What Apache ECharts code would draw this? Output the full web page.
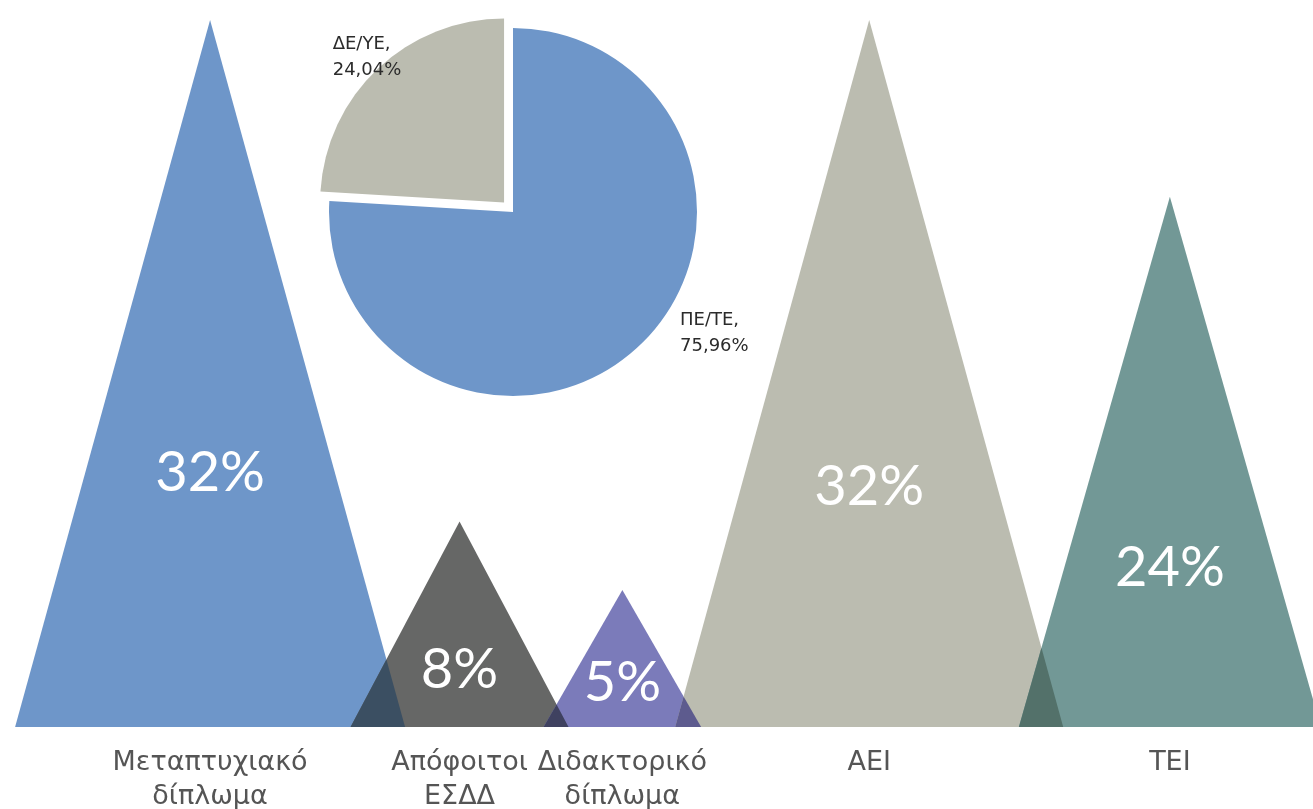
<!DOCTYPE html>
<html>
<head>
<meta charset="utf-8">
<script src="https://cdn.jsdelivr.net/npm/echarts@6/dist/echarts.min.js"></script>
<style>
  html, body { margin: 0; padding: 0; background: #ffffff; }
  #main { width: 1313px; height: 809px; }
</style>
</head>
<body>
<div id="main"></div>
<script>
// triangles
var categories = ['Μεταπτυχιακό\nδίπλωμα', 'Απόφοιτοι\nΕΣΔΔ', 'Διδακτορικό\nδίπλωμα', 'ΑΕΙ', 'ΤΕΙ'];
var shares = [32, 8, 5, 32, 24];
var barHeights = [32, 9.3, 6.2, 32, 24];
var barColors = ['#6E96C9', '#666766', '#7B7BBA', '#BBBCB0', '#729896'];
// colour where a triangle overlaps the next one
var overlapColors = ['#3B4F62', '#3F4160', '#5D5B8E', '#53716A'];

// pie inset
var pieNames = ['ΠΕ/ΤΕ', 'ΔΕ/ΥΕ'];
var pieValues = [75.96, 24.04];
var pieColors = ['#6E96C9', '#BBBCB0'];

// layout (x axis runs 0..100 across the page)
var xCenters = [16.0, 35.0, 47.4, 66.2, 89.1];
var baseWidths = [29.7, 16.6, 12.0, 29.55, 23.0];
var labelFrac = [0.36, 0.28, 0.32, 0.34, 0.30];

var chart = echarts.init(document.getElementById('main'));

var triData = barHeights.map(function (h, i) { return [i, h]; });

function triPoints(api, i) {
  var apex = api.coord([xCenters[i], barHeights[i]]);
  var base = api.coord([xCenters[i], 0]);
  var half = api.size([baseWidths[i], 0])[0] / 2;
  return { apex: apex, left: [base[0] - half, base[1]], right: [base[0] + half, base[1]] };
}

// x on the line p->q at height y
function lineX(p, q, y) {
  return p[0] + (q[0] - p[0]) * (y - p[1]) / (q[1] - p[1]);
}

function renderTriangle(params, api) {
  var i = api.value(0);
  var t = triPoints(api, i);
  var baseY = t.left[1];
  var labelY = baseY - (baseY - t.apex[1]) * labelFrac[i];
  var children = [{
    type: 'polygon',
    shape: { points: [t.left, t.apex, t.right] },
    style: { fill: barColors[i] }
  }];
  if (i < barHeights.length - 1) {
    var n = triPoints(api, i + 1);
    if (n.left[0] < t.right[0]) {
      // intersection of right edge of this and left edge of next
      var lo = Math.max(t.apex[1], n.apex[1]), hi = baseY;
      for (var k = 0; k < 60; k++) {
        var mid = (lo + hi) / 2;
        if (lineX(t.apex, t.right, mid) < lineX(n.apex, n.left, mid)) lo = mid; else hi = mid;
      }
      var py = (lo + hi) / 2;
      children.push({
        type: 'polygon',
        z2: 5,
        shape: { points: [n.left, [lineX(t.apex, t.right, py), py], t.right] },
        style: { fill: overlapColors[i] }
      });
    }
  }
  children.push({
    type: 'text',
    z2: 10,
    style: {
      text: shares[i] + '%',
      x: t.apex[0], y: labelY,
      align: 'center', verticalAlign: 'middle',
      fill: '#ffffff',
      font: '56px Lato'
    }
  }, {
    type: 'text',
    style: {
      text: categories[i],
      x: t.apex[0], y: baseY + 19,
      align: 'center', verticalAlign: 'top',
      fill: '#555555',
      font: '27px "DejaVu Sans"',
      lineHeight: 34
    }
  });
  return { type: 'group', children: children };
}

var option = {
  backgroundColor: '#ffffff',
  animation: false,
  grid: { left: 0, right: 0, top: 0, bottom: 82 },
  xAxis: { type: 'value', min: 0, max: 100, show: false },
  yAxis: { type: 'value', min: 0, max: 32.9, show: false },
  series: [{
    type: 'custom',
    renderItem: renderTriangle,
    data: triData,
    clip: false
  }, {
    type: 'pie',
    center: [513, 212],
    radius: 184,
    startAngle: 90,
    clockwise: true,
    selectedMode: 'single',
    selectedOffset: 13,
    label: {
      color: '#2b2b2b',
      fontFamily: 'DejaVu Sans',
      fontSize: 18,
      lineHeight: 26,
      align: 'left',
      formatter: function (p) {
        return p.name + ',\n' + p.value.toFixed(2).replace('.', ',') + '%';
      }
    },
    labelLine: { show: false },
    labelLayout: function (p) {
      if (p.dataIndex === 0) {
        return { x: 680, y: 333, align: 'left', verticalAlign: 'middle', fontSize: 18 };
      }
      return { x: 290, y: 54, align: 'left', verticalAlign: 'middle', fontSize: 18 };
    },
    data: pieValues.map(function (v, i) {
      return {
        name: pieNames[i],
        value: v,
        selected: i === 1,
        itemStyle: { color: pieColors[i] }
      };
    })
  }]
};

chart.setOption(option);
</script>
</body>
</html>
